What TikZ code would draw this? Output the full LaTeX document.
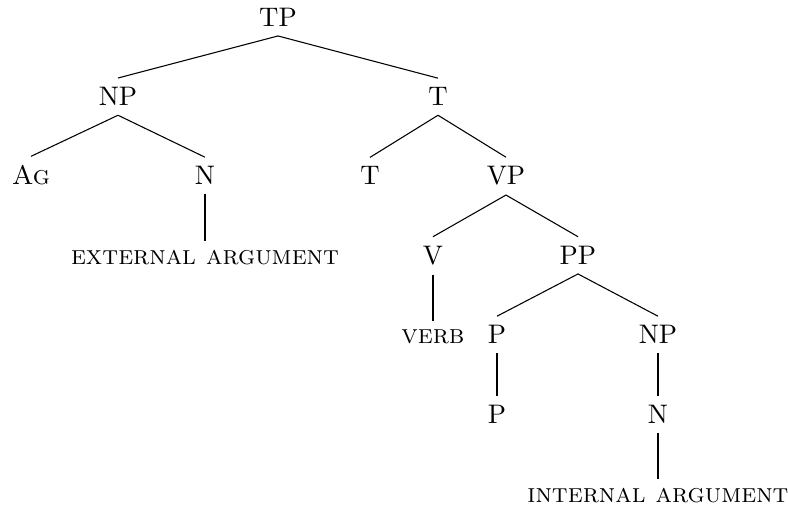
\documentclass[tikz,border=0pt]{standalone}
\begin{document}
\begin{tikzpicture}[x=0.373pt,y=-0.373pt,
  lbl/.style={anchor=base,inner sep=3.33pt},
  edge/.style={draw=black,line width=0.4pt}]
\useasboundingbox (0,0) rectangle (788,512);
% level 1
\node[lbl] (tp) at (278,26.5) {TP};
% level 2
\node[lbl] (np1) at (118,105.8) {NP};
\node[lbl] (tbar) at (438,105.8) {T};
% level 3
\node[lbl] (ag) at (31,185) {\textsc{Ag}};
\node[lbl] (n1) at (205,185) {N};
\node[lbl] (t) at (370,185) {T};
\node[lbl] (vp) at (506,185) {VP};
% level 4
\node[lbl] (ext) at (205,264.5) {\textsc{external argument}};
\node[lbl] (v) at (433,264.5) {V};
\node[lbl] (pp) at (578,264.5) {PP};
% level 5
\node[lbl] (verb) at (433,344) {\textsc{verb}};
\node[lbl] (p1) at (497,344) {P};
\node[lbl] (np2) at (658,344) {NP};
% level 6
\node[lbl] (p2) at (497,423.5) {P};
\node[lbl] (n2) at (658,423.5) {N};
% level 7
\node[lbl] (int) at (658,503) {\textsc{internal argument}};
% edges
\draw[edge] (tp.south) -- (np1.north);
\draw[edge] (tp.south) -- (tbar.north);
\draw[edge] (np1.south) -- (ag.north);
\draw[edge] (np1.south) -- (n1.north);
\draw[edge] (n1.south) -- (ext.north);
\draw[edge] (tbar.south) -- (t.north);
\draw[edge] (tbar.south) -- (vp.north);
\draw[edge] (vp.south) -- (v.north);
\draw[edge] (vp.south) -- (pp.north);
\draw[edge] (v.south) -- (verb.north);
\draw[edge] (pp.south) -- (p1.north);
\draw[edge] (pp.south) -- (np2.north);
\draw[edge] (p1.south) -- (p2.north);
\draw[edge] (np2.south) -- (n2.north);
\draw[edge] (n2.south) -- (int.north);
\end{tikzpicture}
\end{document}
